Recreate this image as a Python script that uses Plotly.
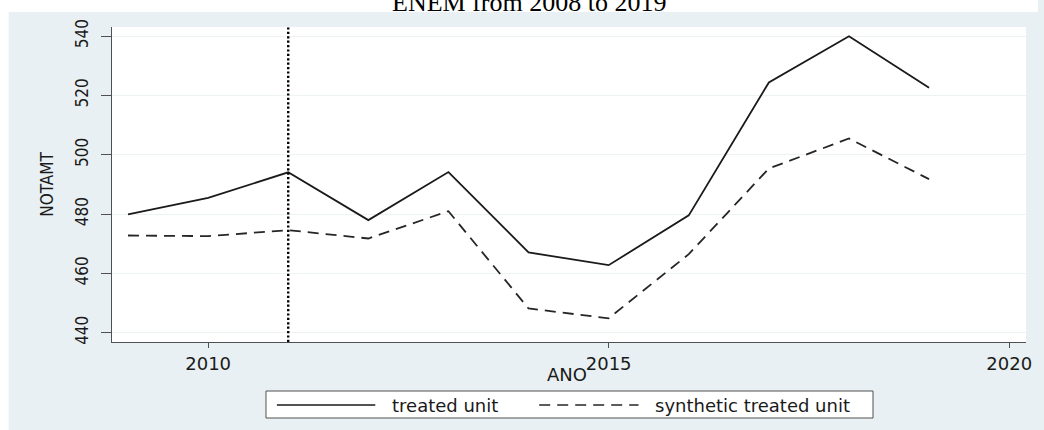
import plotly.graph_objects as go

# Series: mean math score (NOTAMT) by year
years = [2009, 2010, 2011, 2012, 2013, 2014, 2015, 2016, 2017, 2018, 2019]
treated = [479.9, 485.5, 494.1, 478.0, 494.2, 467.1, 462.8, 479.6, 524.4, 540.0, 522.6]
synthetic = [472.8, 472.6, 474.6, 471.8, 481.0, 448.2, 444.9, 466.5, 495.4, 505.5, 491.8]
series_names = ["treated unit", "synthetic treated unit"]
intervention_year = 2011

x_ticks = [2010, 2015, 2020]
y_ticks = [440, 460, 480, 500, 520, 540]

title_text = "ENEM from 2008 to 2019"
x_title = "ANO"
y_title = "NOTAMT"

# Canvas geometry (pixels)
W, H = 1044, 430
ML, MR, MT, MB = 112, 12, 27, 88
PW, PH = W - ML - MR, H - MT - MB

BG = "#E9F0F3"
INK = "#1a1a1a"
AXIS = "#505050"
NARROW = "Liberation Sans Narrow, DejaVu Sans Condensed, Arial Narrow, sans-serif"
WIDE = "DejaVu Sans, Verdana, sans-serif"


def px_x(p):
    return (p - ML) / PW


def px_y(p):
    return (H - MB - p) / PH


fig = go.Figure()

fig.add_trace(go.Scatter(
    x=years, y=treated, mode="lines", name=series_names[0],
    line=dict(color=INK, width=1.8), showlegend=False,
))
fig.add_trace(go.Scatter(
    x=years, y=synthetic, mode="lines", name=series_names[1],
    line=dict(color="#262626", width=1.8, dash="11px,7px"), showlegend=False,
))

shapes = [
    # white strips around the grey graph region
    dict(type="rect", xref="paper", yref="paper", layer="below",
         x0=px_x(0), x1=px_x(W), y0=px_y(12), y1=px_y(-5),
         fillcolor="white", line=dict(width=0)),
    dict(type="rect", xref="paper", yref="paper", layer="below",
         x0=px_x(-5), x1=px_x(8), y0=px_y(H + 5), y1=px_y(-5),
         fillcolor="white", line=dict(width=0)),
    # intervention marker
    dict(type="line", xref="x", yref="paper", x0=intervention_year, x1=intervention_year,
         y0=0, y1=1, line=dict(color="black", width=2.4, dash="2.2px,2.2px")),
    # legend frame and keys
    dict(type="rect", xref="paper", yref="paper",
         x0=px_x(267), x1=px_x(878), y0=px_y(418), y1=px_y(391),
         fillcolor="white", line=dict(color=AXIS, width=1)),
    dict(type="line", xref="paper", yref="paper",
         x0=px_x(278), x1=px_x(377), y0=px_y(405), y1=px_y(405),
         line=dict(color=INK, width=1.6)),
    dict(type="line", xref="paper", yref="paper",
         x0=px_x(542), x1=px_x(642), y0=px_y(405), y1=px_y(405),
         line=dict(color="#262626", width=1.6, dash="11px,7px")),
]

annotations = [
    dict(text=title_text, xref="paper", yref="paper", x=px_x(532), y=px_y(19),
         xanchor="center", yanchor="bottom", showarrow=False,
         font=dict(family="Liberation Serif, Times New Roman, serif", size=26, color="black")),
    dict(text=x_title, xref="paper", yref="paper", x=px_x(570), y=px_y(374),
         xanchor="center", yanchor="middle", showarrow=False,
         font=dict(family=WIDE, size=18, color=INK)),
    dict(text=series_names[0], xref="paper", yref="paper", x=px_x(392), y=px_y(405),
         xanchor="left", yanchor="middle", showarrow=False,
         font=dict(family=WIDE, size=18, color=INK)),
    dict(text=series_names[1], xref="paper", yref="paper", x=px_x(657), y=px_y(405),
         xanchor="left", yanchor="middle", showarrow=False,
         font=dict(family=WIDE, size=18, color=INK)),
]

fig.update_layout(
    width=W, height=H,
    margin=dict(l=ML, r=MR, t=MT, b=MB, pad=0),
    paper_bgcolor=BG, plot_bgcolor="white",
    shapes=shapes, annotations=annotations,
    showlegend=False,
    xaxis=dict(
        range=[2008.8, 2020.21], tickmode="array", tickvals=x_ticks,
        ticks="outside", ticklen=5, tickcolor=AXIS, tickwidth=1,
        showline=True, linecolor=AXIS, linewidth=1, showgrid=False, zeroline=False,
        tickfont=dict(family=WIDE, size=18, color=INK), ticklabelstandoff=0,
    ),
    yaxis=dict(
        range=[436.9, 543.1], tickmode="array", tickvals=y_ticks,
        ticks="outside", ticklen=10, tickcolor=AXIS, tickwidth=1,
        showline=True, linecolor=AXIS, linewidth=1,
        showgrid=True, gridcolor="#EDF2F4", gridwidth=1, zeroline=False,
        tickangle=-90, tickfont=dict(family=NARROW, size=17, color=INK), ticklabelstandoff=6,
        title=dict(text=y_title, font=dict(family=NARROW, size=17, color=INK), standoff=14),
    ),
)

fig.write_html("out.html")
